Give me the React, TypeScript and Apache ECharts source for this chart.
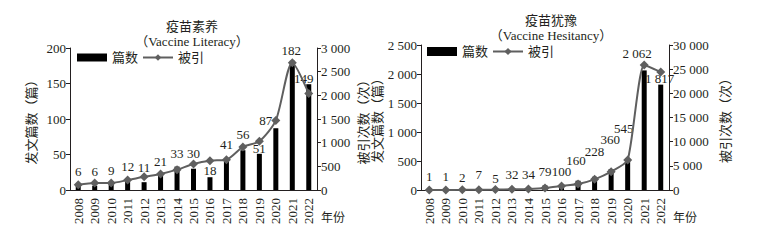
import React, { useEffect, useRef } from "react";
import * as echarts from "echarts";

const years = ["2008","2009","2010","2011","2012","2013","2014","2015","2016","2017","2018","2019","2020","2021","2022"];

// 疫苗素养 (Vaccine Literacy)
const litPapers = [6, 6, 9, 12, 11, 21, 33, 30, 18, 41, 56, 51, 87, 182, 149];
const litCites = [110, 150, 150, 210, 280, 340, 430, 550, 620, 640, 910, 1030, 1470, 2690, 2040];

// 疫苗犹豫 (Vaccine Hesitancy)
const hesPapers = [1, 1, 2, 7, 5, 32, 34, 79, 100, 160, 228, 360, 545, 2062, 1817];
const hesCites = [10, 20, 30, 60, 80, 150, 230, 420, 830, 1240, 2210, 3790, 6200, 25860, 24410];

// label layout nudges (style only)
const litNudgeX = [0, 0, 0, 0, 0, 0, 0, 0, 0, 0, 0, 0, -10, -1, -5];
const litNudgeY = [0, 0, 1, 0, 0, 1, 1, -1, 8, -2, -1, 9, 7, 4, 9];
const hesNudgeX = [0, 0, 0, 0, 0, 0, 0, 0, 0, -2, 0, -1, -4, -7, -1];
const hesNudgeY = [0, 0, 1, -2, 2, 0, 0, 0, 1, -7, -12, -16, -16, -3, 7];

const FONT = '"Liberation Serif", "Noto Sans CJK SC", serif';
const TXT = "#231f20";
const LINE = "#5f5f5f";

const fmt = (v: number) => String(v).replace(/\B(?=(\d{3})+(?!\d))/g, " ");

function barData(vals: number[], nx: number[], ny: number[]) {
  return vals.map((v, i) => ({ value: v, label: { offset: [nx[i], ny[i]] } }));
}

export default function App() {
  const ref = useRef<HTMLDivElement>(null);
  useEffect(() => {
    if (!ref.current) return;
    const chart = echarts.init(ref.current, undefined, { renderer: "svg" });
    const yBase = (side: "left" | "right", gridIndex: number, max: number, interval: number, name: string, nameGap: number) => ({
      type: "value",
      gridIndex,
      position: side,
      min: 0,
      max,
      interval,
      name,
      nameLocation: "middle",
      nameGap,
      nameRotate: 90,
      nameTextStyle: { fontFamily: FONT, fontSize: 13, color: TXT },
      axisLine: { show: true, lineStyle: { color: TXT, width: 1 } },
      axisTick: { show: true, length: 4, lineStyle: { color: TXT } },
      splitLine: { show: false },
      axisLabel: { fontFamily: FONT, fontSize: 13, color: TXT, margin: 4, formatter: (v: number) => fmt(v) },
    });
    const xBase = (gridIndex: number) => ({
      type: "category",
      gridIndex,
      data: years,
      name: "年份",
      nameLocation: "end",
      nameGap: 4,
      nameTextStyle: { fontFamily: FONT, fontSize: 12, color: TXT, align: "left", verticalAlign: "top", padding: [22, 0, 0, 0] },
      axisLine: { show: true, lineStyle: { color: TXT, width: 1 } },
      axisTick: { show: false },
      axisLabel: { fontFamily: FONT, fontSize: 13, color: TXT, rotate: 90, margin: 8, interval: 0 },
    });
    const labelStyle = (distance: number) => ({
      show: true,
      position: "top",
      distance,
      fontFamily: FONT,
      fontSize: 13,
      color: TXT,
      formatter: (p: any) => fmt(p.value),
    });
    chart.setOption({
      animation: false,
      textStyle: { fontFamily: FONT },
      title: [
        {
          text: "疫苗素养",
          subtext: "（Vaccine Literacy）",
          left: 187,
          top: 15,
          textAlign: "center",
          itemGap: 2,
          textStyle: { fontFamily: FONT, fontSize: 13, fontWeight: "normal", color: TXT },
          subtextStyle: { fontFamily: FONT, fontSize: 13, color: TXT },
        },
        {
          text: "疫苗犹豫",
          subtext: "（Vaccine Hesitancy）",
          left: 546,
          top: 9,
          textAlign: "center",
          itemGap: 2,
          textStyle: { fontFamily: FONT, fontSize: 13, fontWeight: "normal", color: TXT },
          subtextStyle: { fontFamily: FONT, fontSize: 13, color: TXT },
        },
      ],
      legend: [
        {
          left: 72,
          top: 46,
          itemWidth: 30,
          itemHeight: 8,
          itemGap: 4,
          textStyle: { fontFamily: FONT, fontSize: 13, color: TXT },
          data: [{ name: "篇数", icon: "rect" }, { name: "被引" }],
          seriesIndex: [0, 1],
        },
        {
          left: 422,
          top: 40,
          itemWidth: 30,
          itemHeight: 9,
          itemGap: 4,
          textStyle: { fontFamily: FONT, fontSize: 13, color: TXT },
          data: [{ name: "篇数", icon: "rect" }, { name: "被引" }],
        },
      ],
      grid: [
        { left: 70, top: 48, width: 247, height: 142, containLabel: false },
        { left: 421, top: 45, width: 248, height: 145, containLabel: false },
      ],
      xAxis: [xBase(0), xBase(1)],
      yAxis: [
        yBase("left", 0, 200, 50, "发文篇数（篇）", 32),
        yBase("right", 0, 3000, 500, "被引次数（次）", 40),
        yBase("left", 1, 2500, 500, "发文篇数（篇）", 37),
        yBase("right", 1, 30000, 5000, "被引次数（次）", 50),
      ],
      series: [
        {
          name: "篇数",
          type: "bar",
          xAxisIndex: 0,
          yAxisIndex: 0,
          barWidth: 5,
          itemStyle: { color: "#000" },
          data: barData(litPapers, litNudgeX, litNudgeY),
          label: labelStyle(8),
        },
        {
          name: "被引",
          type: "line",
          xAxisIndex: 0,
          yAxisIndex: 1,
          smooth: 0.25,
          symbol: "diamond",
          symbolSize: 9,
          lineStyle: { color: LINE, width: 2 },
          itemStyle: { color: LINE },
          data: litCites,
        },
        {
          name: "篇数",
          type: "bar",
          xAxisIndex: 1,
          yAxisIndex: 2,
          barWidth: 5,
          itemStyle: { color: "#000" },
          data: barData(hesPapers, hesNudgeX, hesNudgeY),
          label: labelStyle(7),
        },
        {
          name: "被引",
          type: "line",
          xAxisIndex: 1,
          yAxisIndex: 3,
          smooth: 0.2,
          symbol: "diamond",
          symbolSize: 9,
          lineStyle: { color: LINE, width: 2 },
          itemStyle: { color: LINE },
          data: hesCites,
        },
      ],
    });
    return () => chart.dispose();
  }, []);
  return (
    <div
      ref={ref}
      style={{ position: "fixed", left: 0, top: 0, width: 757, height: 240, background: "#fff" }}
    />
  );
}
